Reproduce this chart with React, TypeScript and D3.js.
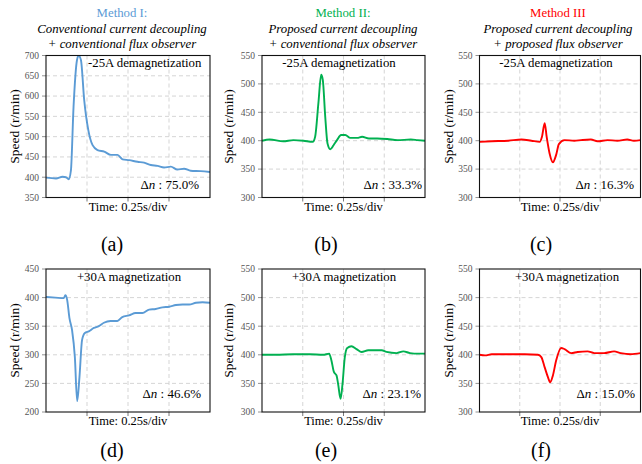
import React from 'react';
import * as d3 from 'd3';

const methodTitles = ['Method I:', 'Method II:', 'Method III'];
const methodColors = ['#5b9bd5', '#00b050', '#ff0000'];
const titleLine2 = ['Conventional current decoupling', 'Proposed current decoupling', 'Proposed current decoupling'];
const titleLine3 = ['+ conventional flux observer', '+ conventional flux observer', '+ proposed flux observer'];
const eventLabels = ['-25A demagnetization', '+30A magnetization'];
const deltaN = ['75.0%', '33.3%', '16.3%', '46.6%', '23.1%', '15.0%'];
const subLabels = ['(a)', '(b)', '(c)', '(d)', '(e)', '(f)'];
const yDomains: [number, number][] = [[350, 700], [300, 550], [300, 550], [200, 450], [300, 550], [300, 550]];
const timeTicks = [0.25, 0.5, 0.75];
const timeLabel = 'Time: 0.25s/div';
const yLabel = 'Speed (r/min)';

const tA = [0, 0.061, 0.101, 0.122, 0.138, 0.152, 0.168, 0.189, 0.199, 0.213, 0.233, 0.258, 0.284, 0.314, 0.355, 0.396, 0.436, 0.467, 0.507, 0.558, 0.598, 0.639, 0.68, 0.72, 0.761, 0.801, 0.842, 0.882, 0.943, 1.0];
const vA = [399, 397, 401, 400, 395, 417, 574, 689, 700, 689, 590, 516, 479, 467, 463, 455, 455, 444, 442, 438, 436, 430, 428, 424, 426, 419, 421, 416, 415, 413];

const tB = [0, 0.047, 0.13, 0.192, 0.254, 0.311, 0.326, 0.346, 0.363, 0.373, 0.388, 0.402, 0.419, 0.439, 0.46, 0.485, 0.511, 0.542, 0.584, 0.614, 0.656, 0.707, 0.769, 0.831, 0.913, 0.955, 1];
const vB = [400, 402, 399, 401, 400, 398, 407, 466, 516, 507, 442, 395, 385, 392, 401, 410, 410, 405, 405, 407, 404, 404, 403, 401, 402, 401, 400];

const tC = [0, 0.076, 0.179, 0.261, 0.322, 0.374, 0.388, 0.405, 0.417, 0.435, 0.456, 0.476, 0.493, 0.528, 0.589, 0.63, 0.692, 0.733, 0.795, 0.856, 0.918, 0.959, 1];
const vC = [398, 399, 400, 402, 400, 398, 407, 431, 407, 378, 362, 375, 394, 401, 400, 401, 402, 399, 401, 400, 402, 400, 401];

const tD = [0, 0.057, 0.108, 0.118, 0.129, 0.143, 0.159, 0.176, 0.19, 0.204, 0.22, 0.237, 0.261, 0.292, 0.322, 0.353, 0.394, 0.435, 0.465, 0.506, 0.547, 0.588, 0.629, 0.669, 0.71, 0.751, 0.792, 0.833, 0.873, 0.914, 0.955, 1];
const vD = [401, 400, 399, 404, 396, 364, 343, 296, 219, 261, 326, 338, 341, 347, 350, 356, 359, 359, 366, 369, 373, 373, 379, 380, 383, 384, 387, 388, 388, 391, 392, 391];

const tE = [0, 0.088, 0.191, 0.293, 0.375, 0.412, 0.426, 0.441, 0.457, 0.467, 0.482, 0.494, 0.508, 0.523, 0.549, 0.58, 0.611, 0.652, 0.703, 0.734, 0.764, 0.826, 0.867, 0.908, 0.959, 1];
const vE = [400, 400, 401, 401, 400, 402, 390, 370, 364, 349, 323, 349, 396, 412, 415, 410, 405, 408, 408, 408, 405, 403, 406, 403, 402, 402];

const tF = [0, 0.035, 0.076, 0.179, 0.281, 0.363, 0.384, 0.405, 0.425, 0.439, 0.456, 0.476, 0.507, 0.528, 0.569, 0.61, 0.671, 0.713, 0.774, 0.836, 0.877, 0.938, 1];
const vF = [400, 399, 401, 401, 401, 400, 396, 378, 361, 352, 364, 390, 412, 410, 403, 405, 406, 403, 403, 406, 403, 401, 403];

const times = [tA, tB, tC, tD, tE, tF];
const speeds = [vA, vB, vC, vD, vE, vF];

const cols = [
  { l: 46, r: 210, yl: 14, sub: 112 },
  { l: 262, r: 425, yl: 228, sub: 326 },
  { l: 479.5, r: 640.5, yl: 448, sub: 541 },
];
const rows = [
  { t: 55.5, b: 197.5, ev: 67, dn: 189, time: 211, sub: 251 },
  { t: 269, b: 412, ev: 281, dn: 398, time: 425, sub: 457 },
];
const eventX = [
  { x: 88, anchor: 'start' },
  { x: 339, anchor: 'middle' },
  { x: 556, anchor: 'middle' },
  { x: 129, anchor: 'middle' },
  { x: 344, anchor: 'middle' },
  { x: 567, anchor: 'middle' },
];
const dnRight = [199, 422, 634, 201, 421, 635];

const FONT = '"Liberation Serif", "Times New Roman", serif';

function Panel({ idx }: { idx: number }) {
  const ci = idx % 3;
  const ri = Math.floor(idx / 3);
  const c = cols[ci];
  const r = rows[ri];
  const x = d3.scaleLinear().domain([0, 1]).range([c.l, c.r]);
  const y = d3.scaleLinear().domain(yDomains[idx]).range([r.b, r.t]);
  const yTicks = d3.range(yDomains[idx][0], yDomains[idx][1] + 1, 50);
  const data = times[idx].map((t, i) => [t, speeds[idx][i]] as [number, number]);
  const line = d3
    .line<[number, number]>()
    .x((d) => x(d[0]))
    .y((d) => y(d[1]))
    .curve(d3.curveMonotoneX);
  const clipId = `clip-${idx}`;
  return (
    <g>
      <defs>
        <clipPath id={clipId}>
          <rect x={c.l} y={r.t} width={c.r - c.l} height={r.b - r.t} />
        </clipPath>
      </defs>
      {yTicks.slice(1, -1).map((v) => (
        <line key={'h' + v} x1={c.l} x2={c.r} y1={y(v)} y2={y(v)} stroke="#d0d0d0" strokeWidth={0.9} strokeDasharray="4,3" />
      ))}
      {timeTicks.map((t) => (
        <line key={'v' + t} x1={x(t)} x2={x(t)} y1={r.t} y2={r.b} stroke="#d0d0d0" strokeWidth={0.9} strokeDasharray="4,3" />
      ))}
      {yTicks.map((v) => (
        <g key={'yt' + v}>
          <line x1={c.l - 4} x2={c.l} y1={y(v)} y2={y(v)} stroke="#777" strokeWidth={0.8} />
          <text x={c.l - 7} y={y(v)} dy="0.35em" textAnchor="end" fontSize={9.5} fill="#555" fontFamily={FONT}>
            {v}
          </text>
        </g>
      ))}
      {timeTicks.map((t) => (
        <line key={'xt' + t} x1={x(t)} x2={x(t)} y1={r.b} y2={r.b + 4} stroke="#555" strokeWidth={0.8} />
      ))}
      <path d={line(data) || ''} fill="none" stroke={methodColors[ci]} strokeWidth={1.9} clipPath={`url(#${clipId})`} strokeLinejoin="round" />
      <rect x={c.l} y={r.t} width={c.r - c.l} height={r.b - r.t} fill="none" stroke="#111" strokeWidth={1.1} />
      <text x={eventX[idx].x} y={r.ev} textAnchor={eventX[idx].anchor as any} fontSize={12.8} fontFamily={FONT} fill="#000">
        {eventLabels[ri]}
      </text>
      <text x={dnRight[idx]} y={r.dn} textAnchor="end" fontSize={13} fontFamily={FONT} fill="#000">
        Δ<tspan fontStyle="italic">n</tspan> : {deltaN[idx]}
      </text>
      <text x={(c.l + c.r) / 2} y={r.time} textAnchor="middle" fontSize={12.5} fontFamily={FONT} fill="#000">
        {timeLabel}
      </text>
      <text
        transform={`translate(${c.yl},${(r.t + r.b) / 2}) rotate(-90)`}
        textAnchor="middle"
        dy="0.35em"
        fontSize={13.5}
        fontFamily={FONT}
        fill="#000"
      >
        {yLabel}
      </text>
      <text x={c.sub} y={r.sub} textAnchor="middle" fontSize={20} fontFamily={FONT} fill="#000">
        {subLabels[idx]}
      </text>
    </g>
  );
}

export default function App() {
  const titleX = [122, 343, 558];
  return (
    <svg width={642} height={464} style={{ position: 'absolute', left: 0, top: 0, background: '#fff' }} xmlns="http://www.w3.org/2000/svg">
      <rect x={0} y={0} width={642} height={464} fill="#fff" />
      {methodTitles.map((m, i) => (
        <g key={m}>
          <text x={titleX[i]} y={17} textAnchor="middle" fontSize={12.8} fontFamily={FONT} fill={methodColors[i]}>
            {m}
          </text>
          <text x={titleX[i]} y={33} textAnchor="middle" fontSize={12.8} fontFamily={FONT} fontStyle="italic" fill="#000">
            {titleLine2[i]}
          </text>
          <text x={titleX[i]} y={47.5} textAnchor="middle" fontSize={12.8} fontFamily={FONT} fontStyle="italic" fill="#000">
            {titleLine3[i]}
          </text>
        </g>
      ))}
      {subLabels.map((_, i) => (
        <Panel key={i} idx={i} />
      ))}
    </svg>
  );
}
